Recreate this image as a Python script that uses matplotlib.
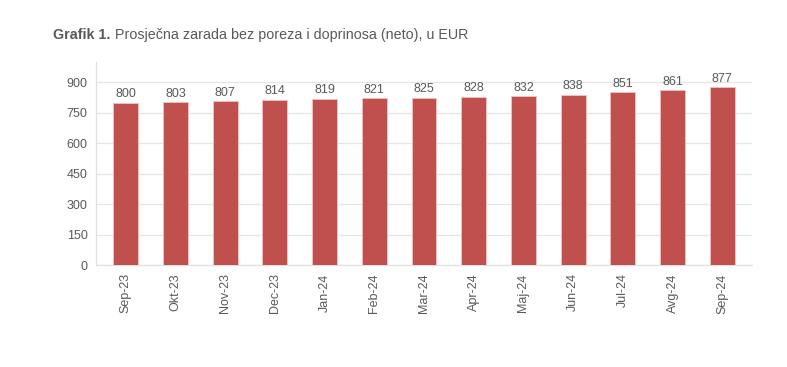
import matplotlib
matplotlib.use("Agg")
import matplotlib.pyplot as plt

plt.rcParams['font.family'] = ['Liberation Sans', 'DejaVu Sans']

categories = ["Sep-23", "Okt-23", "Nov-23", "Dec-23", "Jan-24", "Feb-24", "Mar-24",
              "Apr-24", "Maj-24", "Jun-24", "Jul-24", "Avg-24", "Sep-24"]
values = [800, 803, 807, 814, 819, 821, 825, 828, 832, 838, 851, 861, 877]
yticks = [0, 150, 300, 450, 600, 750, 900]

txt = '#595959'
fig = plt.figure(figsize=(7.87, 3.67), dpi=100)
ax = fig.add_axes([96/787, 1-265/367, (752-96)/787, (265-62)/367])

x = list(range(len(categories)))
bars = ax.bar(x, values, width=0.5, color='#C0504D', edgecolor='#F2C4C3', linewidth=0.6, zorder=3)
for xi, v in zip(x, values):
    ax.text(xi, v + 12, str(v), ha='center', va='bottom', fontsize=9, color=txt)

ax.set_xlim(-0.6, 12.6)
ax.set_ylim(0, 1000)
ax.set_yticks(yticks)
ax.set_xticks(x)
ax.set_xticklabels(categories, rotation=90, fontsize=9, color=txt)
ax.tick_params(axis='y', labelsize=9, colors=txt, length=0, pad=6)
ax.tick_params(axis='x', length=0, pad=6)
ax.grid(axis='y', color='#E6E6E6', linewidth=0.9, zorder=0)
for s in ['top', 'right']:
    ax.spines[s].set_visible(False)
for s in ['left', 'bottom']:
    ax.spines[s].set_color('#E0E0E0')
    ax.spines[s].set_linewidth(0.9)

t1 = fig.text(53/787, 1-35/367, "Grafik 1.", fontsize=10.3, fontweight='bold', color=txt, va='center')
fig.canvas.draw()
bb = t1.get_window_extent()
fig.text((bb.x1 + 5)/787, 1-35/367, "Prosječna zarada bez poreza i doprinosa (neto), u EUR",
         fontsize=10.3, color=txt, va='center')

fig.savefig("out.png", dpi=100)
